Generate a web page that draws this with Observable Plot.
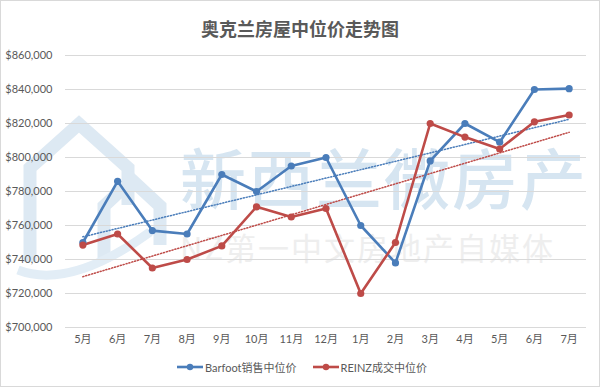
<!DOCTYPE html>
<html>
<head>
<meta charset="utf-8">
<script src="https://cdn.jsdelivr.net/npm/d3@7"></script>
<script src="https://cdn.jsdelivr.net/npm/@observablehq/plot@0.6"></script>
<style>
  body { margin: 0; background: #fff; }
  #wrap { position: relative; width: 600px; height: 387px; background: #fff; overflow: hidden;
          font-family: Lato, "Noto Sans CJK SC", sans-serif; }
  #border { position: absolute; left: 0; top: 0; width: 600px; height: 387px; box-sizing: border-box;
            border: 1px solid #d9d9d9; pointer-events: none; z-index: 10; }
  #title { position: absolute; left: 0; top: 17px; width: 600px; text-align: center; font-size: 18px;
           line-height: 22px; font-weight: bold; color: #595959; font-family: "Noto Sans CJK SC", sans-serif; }
  #wm { position: absolute; left: 0; top: 0; width: 600px; height: 387px; }
  #wm1 { position: absolute; left: 180px; top: 139px; font-size: 66px; line-height: 72px; color: #d6e5f1;
         font-family: "Noto Sans CJK SC", sans-serif; font-weight: 500; letter-spacing: 2px; white-space: nowrap; }
  #wm2 { position: absolute; left: 180px; top: 229px; font-size: 31px; line-height: 36px; color: #eeeeee;
         font-family: "Noto Sans CJK SC", sans-serif; letter-spacing: 2px; white-space: nowrap; }
  #plot { position: absolute; left: 0; top: 44px; }
  #legend { position: absolute; left: 0; top: 358px; width: 604px; height: 18px; display: flex;
            justify-content: center; align-items: center; gap: 16px; font-size: 11px; color: #595959;
            font-family: Lato, "Noto Sans CJK SC", sans-serif; }
  .item { display: flex; align-items: center; gap: 2px; }
</style>
</head>
<body>
<div id="wrap">
  <div id="wm">
    <svg width="600" height="387" style="position:absolute;left:0;top:0">
      <g fill="none" stroke="#dde9f3" stroke-width="13" stroke-linejoin="miter">
        <path d="M30,262 V168 L79,124 L128,168 V205"/>
        <path d="M104,262 V206 L132,180 L160,206 V245"/>
      </g>
      <path d="M18,270 Q70,290 150,232" fill="none" stroke="#e2edf6" stroke-width="9"/>
    </svg>
    <div id="wm1">新西兰微房产</div>
    <div id="wm2">NZ第一中文房地产自媒体</div>
  </div>
  <div id="title">奥克兰房屋中位价走势图</div>
  <div id="plot"></div>
  <div id="legend"></div>
  <div id="border"></div>
</div>
<script>
const months = ["5月","6月","7月","8月","9月","10月","11月","12月","1月","2月","3月","4月","5月","6月","7月"];
const barfoot = [750000, 786000, 757000, 755000, 790000, 780000, 795000, 800000, 760000, 738000, 798000, 820000, 809000, 840000, 840500];
const reinz   = [748500, 755000, 735000, 740000, 748000, 771000, 765000, 770000, 720000, 750000, 820000, 812000, 805000, 821000, 825000];
const seriesNames = ["Barfoot销售中位价", "REINZ成交中位价"];
const colors = ["#4a7dba", "#be4b48"];
const yTicks = [700000, 720000, 740000, 760000, 780000, 800000, 820000, 840000, 860000];

const data = [];
months.forEach((m, i) => {
  data.push({i, month: m, series: seriesNames[0], value: barfoot[i]});
  data.push({i, month: m, series: seriesNames[1], value: reinz[i]});
});

const fmt = d3.format("$,");
const chart = Plot.plot({
  width: 600,
  height: 312,
  marginLeft: 65,
  marginRight: 14,
  marginTop: 11,
  marginBottom: 29,
  style: {fontSize: "11px", fontFamily: "Lato, 'Noto Sans CJK SC', sans-serif", color: "#595959", background: "transparent", overflow: "visible"},
  x: {type: "linear", domain: [-0.5, months.length - 0.5]},
  y: {domain: [700000, 860000]},
  color: {domain: seriesNames, range: colors},
  marks: [
    Plot.gridY(yTicks, {stroke: "#d9d9d9", strokeOpacity: 1, strokeWidth: 1}),
    Plot.axisY(yTicks, {tickSize: 0, tickPadding: 13, tickFormat: fmt, label: null}),
    Plot.axisX(d3.range(months.length), {tickSize: 0, tickPadding: 8, tickFormat: i => months[i], label: null}),
    Plot.linearRegressionY(data, {x: "i", y: "value", stroke: "series", ci: 0, strokeWidth: 1.5, strokeDasharray: "1.1,1.9"}),
    Plot.line(data, {x: "i", y: "value", stroke: "series", z: "series", strokeWidth: 2.6}),
    Plot.dot(data, {x: "i", y: "value", fill: "series", r: 3.6, stroke: "none"})
  ]
});
document.getElementById("plot").appendChild(chart);

const legend = document.getElementById("legend");
seriesNames.forEach((name, k) => {
  const item = document.createElement("div");
  item.className = "item";
  item.innerHTML = `<svg width="26" height="10"><line x1="0" y1="5" x2="26" y2="5" stroke="${colors[k]}" stroke-width="2.6"/><circle cx="13" cy="5" r="3.2" fill="${colors[k]}"/></svg><span>${name}</span>`;
  legend.appendChild(item);
});
</script>
</body>
</html>
